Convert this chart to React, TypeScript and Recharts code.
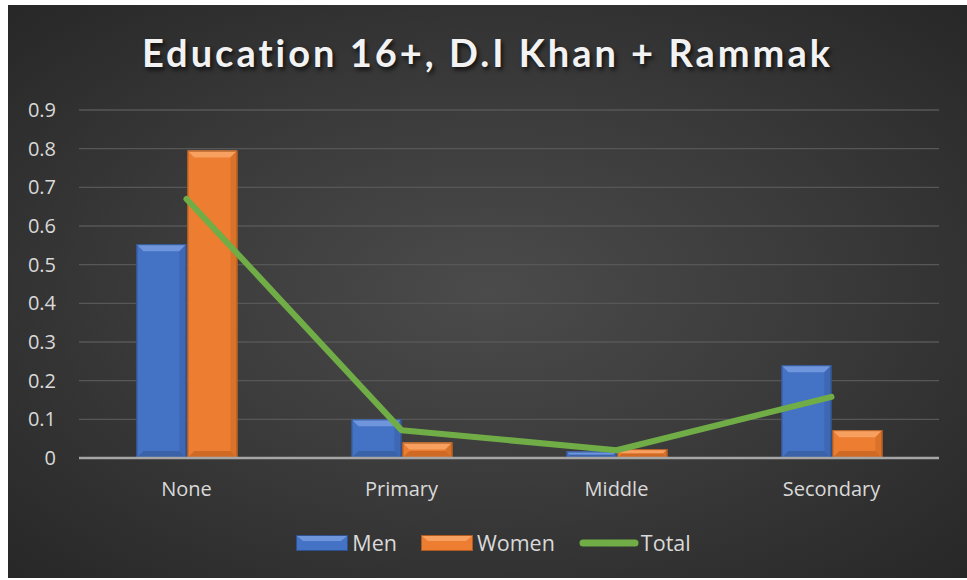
import { ComposedChart, Bar, Line, XAxis, YAxis, CartesianGrid } from 'recharts';

const categories = ['None', 'Primary', 'Middle', 'Secondary'];
const menValues = [0.553, 0.1, 0.017, 0.24];
const womenValues = [0.795, 0.04, 0.023, 0.072];
const totalValues = [0.67, 0.072, 0.02, 0.158];
const yTicks = [0, 0.1, 0.2, 0.3, 0.4, 0.5, 0.6, 0.7, 0.8, 0.9];

const chartData = categories.map((name, i) => ({
  name,
  Men: menValues[i],
  Women: womenValues[i],
  Total: totalValues[i],
}));

const FONT = '"Open Sans", Lato, sans-serif';
const TEXT = '#d9d9d9';

const BAR_COLORS: Record<string, { base: string; light: string; dark: string; edge: string }> = {
  Men: { base: '#4472c4', light: '#6f95dc', dark: '#3a62a9', edge: '#2f528f' },
  Women: { base: '#ed7d31', light: '#f7a060', dark: '#cf6a25', edge: '#ae5a21' },
};

function BevelBar(props: any) {
  const { x, y, width, height, dataKey } = props;
  if (!height || height <= 0) return null;
  const c = BAR_COLORS[dataKey] || BAR_COLORS.Men;
  const b = Math.min(7, height / 2, width / 2);
  return (
    <g>
      <rect x={x} y={y} width={width} height={height} fill={c.base} />
      <polygon
        points={`${x},${y} ${x + width},${y} ${x + width - b},${y + b} ${x + b},${y + b}`}
        fill={c.light}
      />
      <polygon
        points={`${x},${y + height} ${x + width},${y + height} ${x + width - b},${y + height - b} ${x + b},${y + height - b}`}
        fill={c.dark}
      />
      <polygon
        points={`${x + width},${y} ${x + width},${y + height} ${x + width - b},${y + height - b} ${x + width - b},${y + b}`}
        fill={c.dark}
        opacity={0.6}
      />
      <rect x={x + 0.5} y={y + 0.5} width={width - 1} height={height - 1} fill="none" stroke={c.edge} strokeWidth={1} />
    </g>
  );
}

function LegendBox() {
  const item = (label: string, key: string) => {
    const c = BAR_COLORS[key];
    return (
      <span style={{ display: 'inline-flex', alignItems: 'center', marginRight: 24 }}>
        <svg width={52} height={16} style={{ marginRight: 4 }}>
          <rect x={0.5} y={0.5} width={51} height={15} fill={c.base} stroke={c.edge} />
          <polygon points="1,1 51,1 45,6 7,6" fill={c.light} />
        </svg>
        {label}
      </span>
    );
  };
  return (
    <div
      style={{
        position: 'absolute',
        left: 6,
        top: 523,
        width: 959,
        display: 'flex',
        justifyContent: 'center',
        alignItems: 'center',
        fontFamily: FONT,
        fontSize: 21.5,
        color: TEXT,
      }}
    >
      {item('Men', 'Men')}
      {item('Women', 'Women')}
      <span style={{ display: 'inline-flex', alignItems: 'center' }}>
        <svg width={60} height={16} style={{ marginRight: 2 }}>
          <line x1={4} y1={8} x2={56} y2={8} stroke="#70ad47" strokeWidth={7} strokeLinecap="round" />
        </svg>
        Total
      </span>
    </div>
  );
}

export default function App() {
  return (
    <div style={{ position: 'absolute', left: 0, top: 0, width: 967, height: 580, background: '#fff', overflow: 'hidden' }}>
      <div
        style={{
          position: 'absolute',
          left: 8,
          top: 5,
          width: 959,
          height: 573,
          overflow: 'hidden',
          background: 'radial-gradient(ellipse at 50% 50%, #4b4b4b 0%, #3a3a3a 50%, #272727 100%)',
        }}
      >
        <div
          style={{
            position: 'absolute',
            left: 0,
            top: 24,
            width: 959,
            textAlign: 'center',
            fontFamily: 'Lato, sans-serif',
            fontWeight: 700,
            fontSize: 38,
            letterSpacing: 3,
            color: '#f2f2f2',
            textShadow: '2px 3px 4px rgba(0,0,0,0.7)',
          }}
        >
          Education 16+, D.I Khan + Rammak
        </div>
        <ComposedChart
          width={959}
          height={573}
          data={chartData}
          margin={{ top: 105, right: 28, bottom: 90, left: 11 }}
          barCategoryGap="26.7%"
          barGap={1}
        >
          <CartesianGrid vertical={false} stroke="#575757" strokeWidth={1.3} />
          <XAxis
            dataKey="name"
            height={30}
            axisLine={{ stroke: '#a6a6a6', strokeWidth: 2.5 }}
            tickLine={false}
            tickSize={0}
            tickMargin={24}
            tick={{ fill: TEXT, fontSize: 20, fontFamily: FONT }}
          />
          <YAxis
            width={60}
            domain={[0, 0.9]}
            ticks={yTicks}
            axisLine={false}
            tickLine={false}
            tickSize={0}
            tickMargin={23}
            tick={{ fill: TEXT, fontSize: 20, fontFamily: FONT }}
          />
          <Bar dataKey="Men" fill="#4472c4" shape={<BevelBar />} isAnimationActive={false} />
          <Bar dataKey="Women" fill="#ed7d31" shape={<BevelBar />} isAnimationActive={false} />
          <Line
            dataKey="Total"
            type="linear"
            stroke="#70ad47"
            strokeWidth={6}
            strokeLinecap="round"
            strokeLinejoin="round"
            dot={false}
            activeDot={false}
            isAnimationActive={false}
          />
        </ComposedChart>
        <LegendBox />
      </div>
    </div>
  );
}
